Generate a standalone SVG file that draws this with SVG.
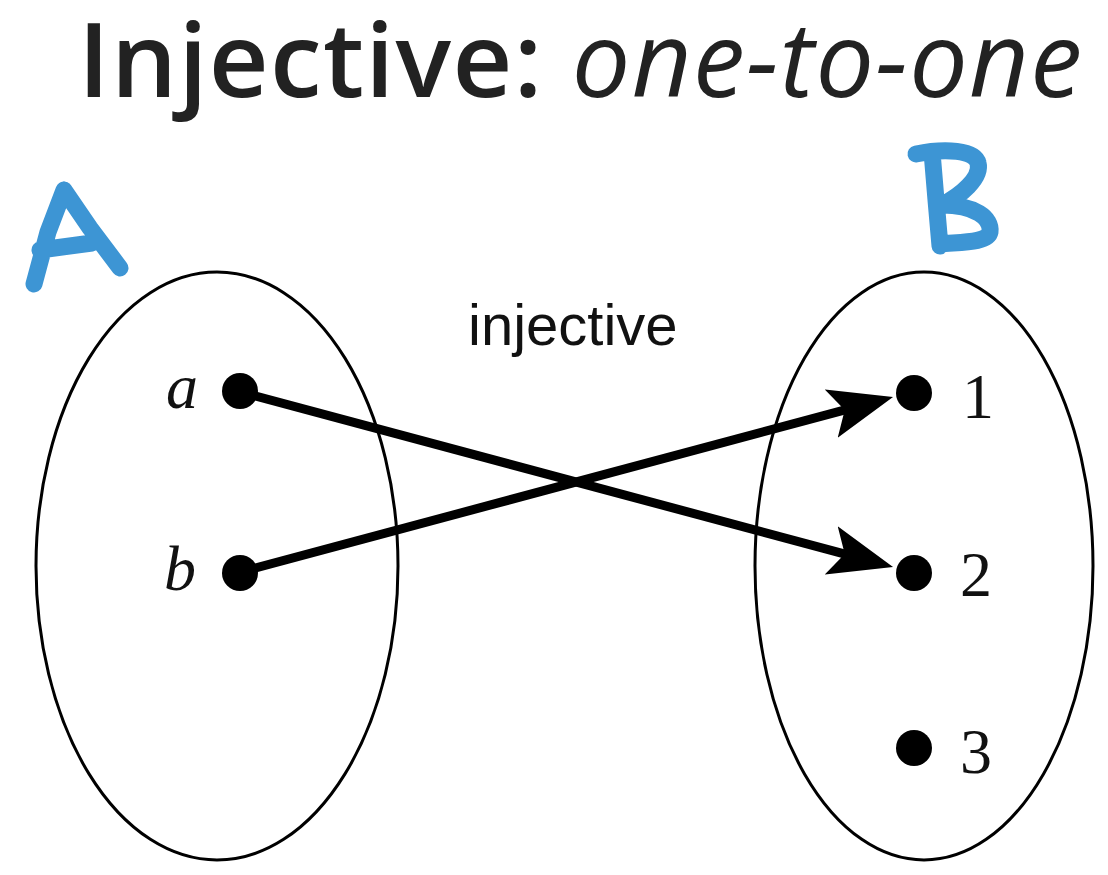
<svg xmlns="http://www.w3.org/2000/svg" width="1108" height="875" viewBox="0 0 1108 875">
  <style>
    .set { fill: none; stroke: #000; stroke-width: 3; }
    .dot { fill: #000; }
    .elem { font-family: "Liberation Serif", "DejaVu Serif", serif; font-size: 64px; fill: #111; }
    .var { font-style: italic; }
    .hand { fill: none; stroke: #3d95d4; stroke-width: 17; stroke-linecap: round; stroke-linejoin: round; }
    .edge { stroke: #000; stroke-width: 9; fill: none; }
  </style>
  <defs>
    <!-- arrowhead: tip sits 40px beyond the end of the shaft -->
    <marker id="head" markerUnits="userSpaceOnUse" viewBox="0 0 64 50" refX="24" refY="25" markerWidth="64" markerHeight="50" orient="auto">
      <path d="M0,0 L64,25 L0,50 L14,25 Z" fill="#000"/>
    </marker>
  </defs>
  <rect width="1108" height="875" fill="#fff"/>

  <!-- heading -->
  <text x="78" y="97" textLength="1004" lengthAdjust="spacing" font-family="'Open Sans', 'Noto Sans', sans-serif" font-size="104" fill="#222"><tspan font-weight="600">Injective:</tspan> <tspan font-style="italic">one-to-one</tspan></text>

  <!-- set A -->
  <g id="setA">
    <ellipse class="set" cx="217" cy="566" rx="181" ry="294"/>
    <path class="hand" d="M34,284 L48,232 L64,190 M64,190 L90,228 L120,268 M40,250 L92,243"/>
  </g>

  <!-- set B -->
  <g id="setB">
    <ellipse class="set" cx="924" cy="566" rx="169" ry="294"/>
    <path class="hand" d="M932,152 L936,200 L940,246 M916,154 C945,148 975,150 978,163 C982,178 960,196 942,205 C975,205 992,218 990,232 C988,243 960,242 940,244"/>
  </g>

  <!-- elements of A -->
  <g id="elem-a">
    <circle class="dot" cx="240" cy="391" r="18"/>
    <text class="elem var" x="166" y="408">a</text>
  </g>
  <g id="elem-b">
    <circle class="dot" cx="240" cy="573" r="18"/>
    <text class="elem var" x="164" y="590">b</text>
  </g>

  <!-- elements of B -->
  <g id="elem-1">
    <circle class="dot" cx="914" cy="393" r="18"/>
    <text class="elem" x="962" y="418">1</text>
  </g>
  <g id="elem-2">
    <circle class="dot" cx="914" cy="573" r="18"/>
    <text class="elem" x="960" y="596">2</text>
  </g>
  <g id="elem-3">
    <circle class="dot" cx="914" cy="748" r="18"/>
    <text class="elem" x="960" y="773">3</text>
  </g>

  <!-- mapping -->
  <g id="connectors">
    <line class="edge" x1="248" y1="394" x2="854.4" y2="556.6" marker-end="url(#head)"/>
    <line class="edge" x1="248" y1="570" x2="854.4" y2="407.4" marker-end="url(#head)"/>
    <text x="468" y="345" font-family="'Liberation Sans', Arial, sans-serif" font-size="58" fill="#111">injective</text>
  </g>
</svg>
